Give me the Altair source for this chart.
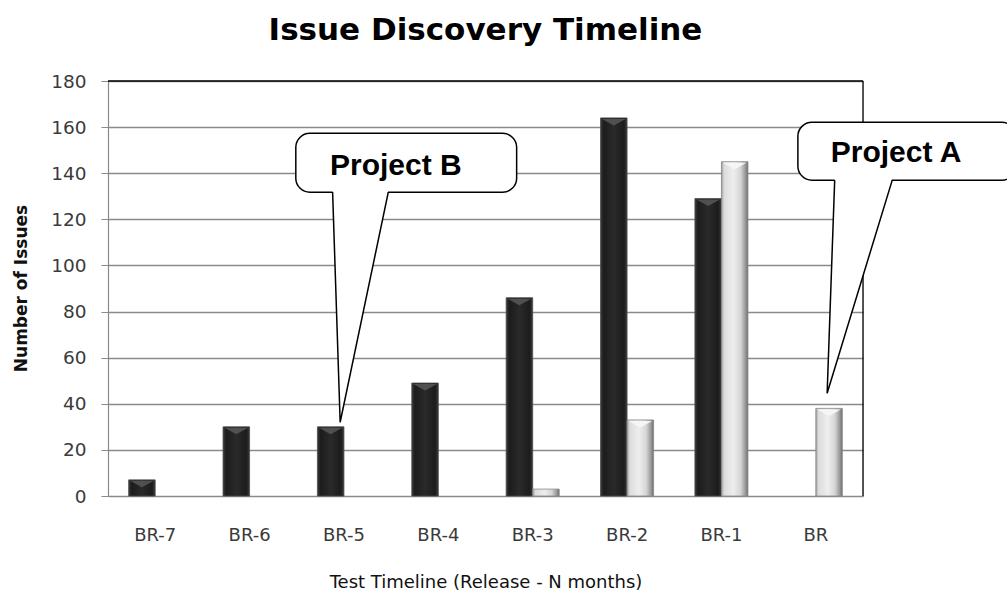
import altair as alt
import pandas as pd

# Issues found per month before release, for the two projects
categories = ["BR-7", "BR-6", "BR-5", "BR-4", "BR-3", "BR-2", "BR-1", "BR"]
project_b = [7, 30, 30, 49, 86, 164, 129, None]
project_a = [None, None, None, None, 3, 33, 145, 38]
series = ["Project B", "Project A"]

# Speech-bubble callouts, in data units (x: category index 0..8, y: issues)
callout_text = ["Project B", "Project A"]
box_left = [1.99, 7.31]
box_right = [4.33, 9.62]
box_top = [157.3, 162.1]
box_bottom = [131.8, 137.0]
tail_left = [2.38, 7.70]
tail_right = [2.97, 8.31]
tip_x = [2.46, 7.62]
tip_y = [32.0, 44.6]
text_x = [3.05, 8.35]
text_y = [143.0, 148.8]

W, H = 755, 415
FONT = "DejaVu Sans"

rows = []
for cat, b, a in zip(categories, project_b, project_a):
    if b is not None:
        rows.append({"period": cat, "project": series[0], "issues": b})
    if a is not None:
        rows.append({"period": cat, "project": series[1], "issues": a})
bars = pd.DataFrame(rows)

x_enc = alt.X("period:N", sort=categories,
              scale=alt.Scale(domain=categories, paddingInner=0.438, paddingOuter=0.219),
              axis=alt.Axis(labelAngle=0, ticks=False, labelPadding=30,
                            labelFont=FONT, labelFontSize=18, labelColor="#3a3a3a",
                            domainColor="#8a8a8a", domainWidth=1.2,
                            title="Test Timeline (Release - N months)",
                            titleFont=FONT, titleFontSize=18, titleFontWeight="normal",
                            titleColor="#111111", titleY=86, titleBaseline="middle"))
off_enc = alt.XOffset("project:N", sort=series,
                      scale=alt.Scale(domain=series, paddingInner=0, paddingOuter=0))
y_enc = alt.Y("issues:Q",
              scale=alt.Scale(domain=[0, 180], nice=False),
              axis=alt.Axis(values=list(range(0, 181, 20)), grid=True,
                            gridColor="#8a8a8a", gridWidth=1.3,
                            domainColor="#8a8a8a", domainWidth=1.2,
                            tickColor="#8a8a8a", tickSize=7, labelPadding=15,
                            labelFont=FONT, labelFontSize=18.5, labelColor="#3a3a3a",
                            title="Number of Issues", titleFont=FONT, titleFontSize=17,
                            titleFontWeight="bold", titleColor="#111111",
                            titleAngle=270, titleX=-87, titleY=207,
                            titleBaseline="middle", titleAlign="center"))

dark_fill = alt.Gradient(gradient="linear", x1=0, x2=1, y1=0, y2=0, stops=[
    alt.GradientStop(offset=0, color="#3a3a3a"),
    alt.GradientStop(offset=0.12, color="#1c1c1c"),
    alt.GradientStop(offset=0.5, color="#2a2a2a"),
    alt.GradientStop(offset=0.88, color="#1c1c1c"),
    alt.GradientStop(offset=1, color="#3a3a3a")])
light_fill = alt.Gradient(gradient="linear", x1=0, x2=1, y1=0, y2=0, stops=[
    alt.GradientStop(offset=0, color="#9a9a9a"),
    alt.GradientStop(offset=0.1, color="#dcdcdc"),
    alt.GradientStop(offset=0.45, color="#eeeeee"),
    alt.GradientStop(offset=0.72, color="#d6d6d6"),
    alt.GradientStop(offset=0.9, color="#9a9a9a"),
    alt.GradientStop(offset=1, color="#6e6e6e")])

base = alt.Chart(bars).encode(x=x_enc, xOffset=off_enc, y=y_enc)

dark_bars = base.transform_filter(alt.datum.project == series[0]).mark_bar(
    color=dark_fill, stroke="#4a4a4a", strokeWidth=0.8)
light_bars = base.transform_filter(alt.datum.project == series[1]).mark_bar(
    color=light_fill, stroke="#888888", strokeWidth=0.8)

# bevel chevrons at the top of each bar
chevron = "M -1 0 L 1 0 L 0 0.55 Z"
dark_bevel = base.transform_filter(
    (alt.datum.project == series[0]) & (alt.datum.issues >= 5)
).mark_point(shape=chevron, size=560, filled=True, color="#555555", opacity=0.9, yOffset=1)
light_bevel = base.transform_filter(
    (alt.datum.project == series[1]) & (alt.datum.issues >= 10)
).mark_point(shape=chevron, size=560, filled=True, color="#f7f7f7", opacity=0.95, yOffset=1)

bar_layer = alt.layer(dark_bars, light_bars, dark_bevel, light_bevel)

# plot frame (top and right edges) and callouts share a numeric x scale
xq = alt.Scale(domain=[0, 8], nice=False, zero=False)
yq = alt.Scale(domain=[0, 180], nice=False)

frame = pd.DataFrame({"x": [0, 8], "x2": [8, 8], "y": [180, 0], "y2": [180, 180]})
frame_rules = alt.Chart(frame).mark_rule(color="black", strokeWidth=1.3).encode(
    x=alt.X("x:Q", scale=xq, axis=None), x2="x2:Q",
    y=alt.Y("y:Q", scale=yq, axis=None), y2="y2:Q")

ann = pd.DataFrame({
    "label": callout_text, "bx": box_left, "bx2": box_right,
    "by": box_top, "by2": box_bottom, "tl": tail_left, "tr": tail_right,
    "tx": tip_x, "ty": tip_y, "lx": text_x, "ly": text_y,
})

boxes = alt.Chart(ann).mark_rect(fill="white", stroke="black", strokeWidth=1.5,
                                 cornerRadius=14).encode(
    x=alt.X("bx:Q", scale=xq, axis=None), x2="bx2:Q",
    y=alt.Y("by:Q", scale=yq, axis=None), y2="by2:Q")

tail_rows = []
for r in ann.itertuples():
    tail_rows.append({"label": r.label, "k": 0, "y": r.by2 + 0.8, "x": r.tl, "x2": r.tr})
    tail_rows.append({"label": r.label, "k": 1, "y": r.ty, "x": r.tx, "x2": r.tx})
tails = pd.DataFrame(tail_rows)
tail_fill = alt.Chart(tails).mark_area(orient="horizontal", color="white").encode(
    y=alt.Y("y:Q", scale=yq, axis=None),
    x=alt.X("x:Q", scale=xq, axis=None), x2="x2:Q", detail="label:N")

edge_rows = []
for r in ann.itertuples():
    edge_rows.append({"label": r.label, "k": 0, "x": r.tl, "y": r.by2})
    edge_rows.append({"label": r.label, "k": 1, "x": r.tx, "y": r.ty})
    edge_rows.append({"label": r.label, "k": 2, "x": r.tr, "y": r.by2})
edges = pd.DataFrame(edge_rows)
tail_edge = alt.Chart(edges).mark_line(color="black", strokeWidth=1.5).encode(
    x=alt.X("x:Q", scale=xq, axis=None), y=alt.Y("y:Q", scale=yq, axis=None),
    order="k:Q", detail="label:N")

labels = alt.Chart(ann).mark_text(font="Liberation Sans", fontWeight="bold",
                                  fontSize=30, color="black", baseline="middle",
                                  align="center").encode(
    x=alt.X("lx:Q", scale=xq, axis=None), y=alt.Y("ly:Q", scale=yq, axis=None),
    text="label:N")

callout_layer = alt.layer(frame_rules, boxes, tail_fill, tail_edge, labels)

chart = alt.layer(bar_layer, callout_layer).resolve_scale(
    x="independent", y="independent"
).properties(
    width=W, height=H,
    title=alt.TitleParams("Issue Discovery Timeline", font=FONT, fontSize=31,
                          fontWeight="bold", color="black", anchor="middle",
                          baseline="alphabetic", offset=1),
    autosize=alt.AutoSizeParams(type="none"),
    padding={"left": 108, "top": 81, "right": 144, "bottom": 96},
).configure_view(stroke=None).configure(background="white")

chart.save("out.html", embed_options={"renderer": "svg", "actions": False})
